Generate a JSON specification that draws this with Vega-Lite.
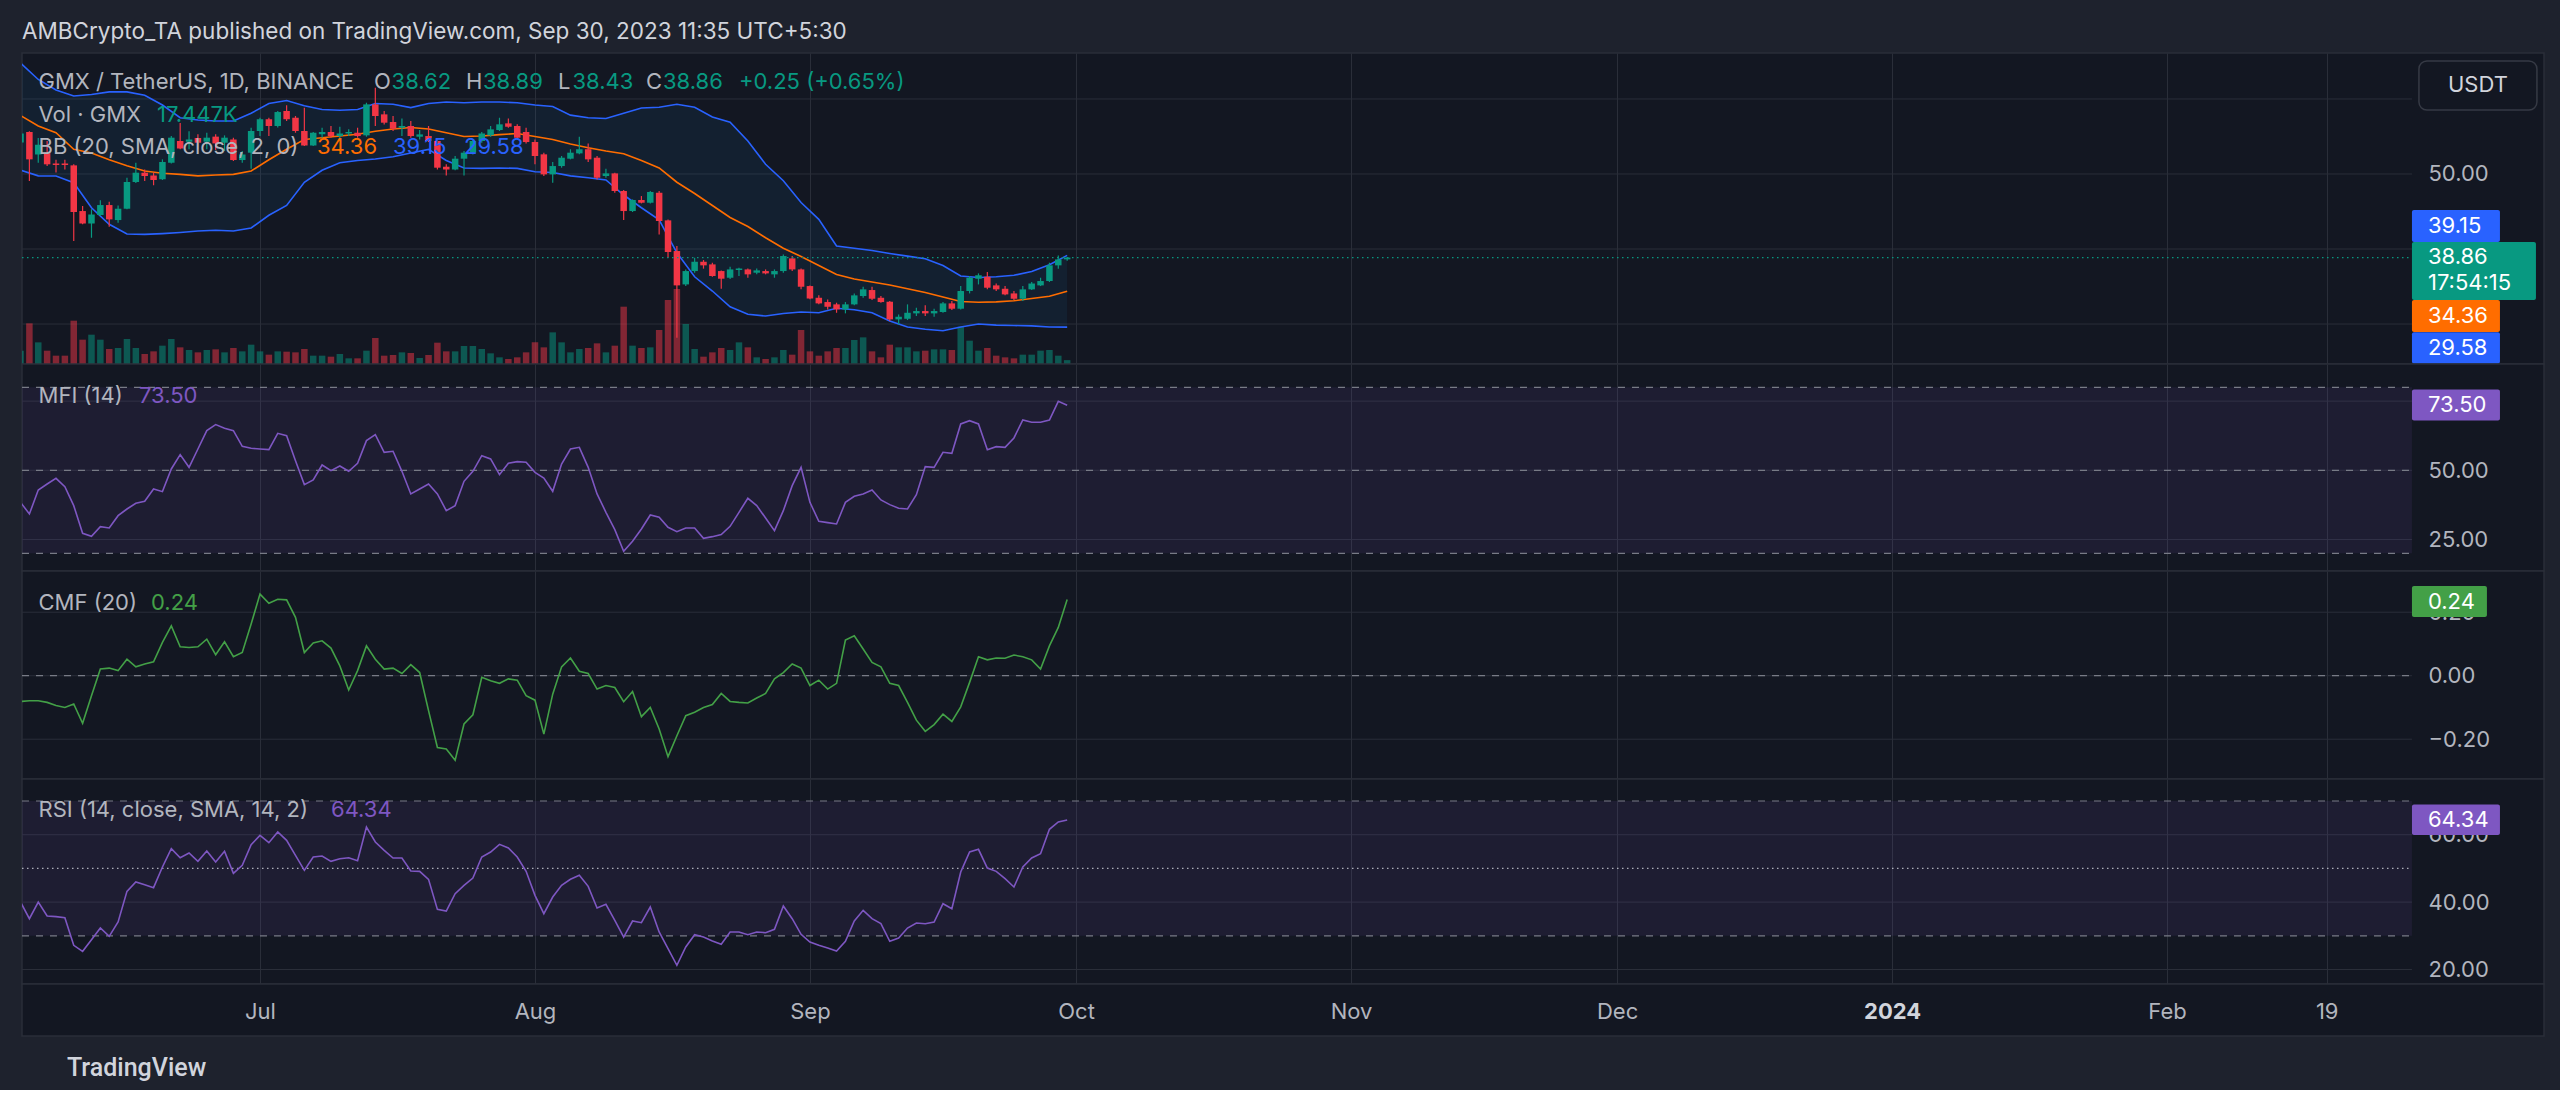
{
  "$schema": "https://vega.github.io/schema/vega-lite/v6.json",
  "background": "#1e222d",
  "padding": {"left": 19, "top": 20, "right": 19, "bottom": 8},
  "title": {"text": "AMBCrypto_TA published on TradingView.com, Sep 30, 2023 11:35 UTC+5:30", "anchor": "start", "frame": "group", "font": "Inter", "fontSize": 22.5, "fontWeight": "normal", "color": "#d1d4dc", "offset": 9},
  "spacing": 0,
  "bounds": "flush",
  "datasets": {
    "candles": [
      {"date": "2023-06-04", "open": 54.2, "high": 55.8, "low": 53.6, "close": 55.4, "volume": 60, "mfi": 38.43, "cmf": -0.081, "rsi": 40.03},
      {"date": "2023-06-05", "open": 55.6, "high": 55.7, "low": 49.06, "close": 51.95, "volume": 183, "mfi": 34.22, "cmf": -0.079, "rsi": 35.08},
      {"date": "2023-06-06", "open": 52.6, "high": 54.8, "low": 51.5, "close": 53.9, "volume": 97.5, "mfi": 42.89, "cmf": -0.079, "rsi": 40.03},
      {"date": "2023-06-07", "open": 52.84, "high": 54.4, "low": 51.06, "close": 51.29, "volume": 60, "mfi": 45.06, "cmf": -0.084, "rsi": 35.88},
      {"date": "2023-06-08", "open": 51.4, "high": 51.9, "low": 50.2, "close": 51.2, "volume": 37.5, "mfi": 47.11, "cmf": -0.094, "rsi": 35.68},
      {"date": "2023-06-09", "open": 51.4, "high": 51.9, "low": 50.6, "close": 51.2, "volume": 37.5, "mfi": 44.1, "cmf": -0.1, "rsi": 35.38},
      {"date": "2023-06-10", "open": 51.15, "high": 51.29, "low": 41.06, "close": 44.93, "volume": 195, "mfi": 37.23, "cmf": -0.089, "rsi": 27.17},
      {"date": "2023-06-11", "open": 45.06, "high": 45.73, "low": 43.3, "close": 43.4, "volume": 109.5, "mfi": 27.23, "cmf": -0.15, "rsi": 25.39},
      {"date": "2023-06-12", "open": 43.4, "high": 45.3, "low": 41.5, "close": 44.6, "volume": 132, "mfi": 26.14, "cmf": -0.063, "rsi": 28.85},
      {"date": "2023-06-13", "open": 44.53, "high": 46.5, "low": 44.4, "close": 45.86, "volume": 109.5, "mfi": 29.64, "cmf": 0.021, "rsi": 32.31},
      {"date": "2023-06-14", "open": 45.86, "high": 46.3, "low": 42.97, "close": 43.95, "volume": 67.5, "mfi": 29.16, "cmf": 0.024, "rsi": 29.84},
      {"date": "2023-06-15", "open": 43.86, "high": 45.8, "low": 43.5, "close": 45.37, "volume": 72, "mfi": 33.61, "cmf": 0.016, "rsi": 34.09},
      {"date": "2023-06-16", "open": 45.37, "high": 49.5, "low": 45.3, "close": 48.93, "volume": 112.5, "mfi": 36.02, "cmf": 0.052, "rsi": 43.19},
      {"date": "2023-06-17", "open": 48.93, "high": 51.5, "low": 48.8, "close": 50.17, "volume": 72, "mfi": 38.07, "cmf": 0.028, "rsi": 45.96},
      {"date": "2023-06-18", "open": 50.17, "high": 50.6, "low": 49.06, "close": 49.73, "volume": 45, "mfi": 38.8, "cmf": 0.037, "rsi": 45.17},
      {"date": "2023-06-19", "open": 49.8, "high": 50.2, "low": 48.5, "close": 49.2, "volume": 57, "mfi": 43.25, "cmf": 0.044, "rsi": 44.28},
      {"date": "2023-06-20", "open": 49.3, "high": 51.95, "low": 49.2, "close": 51.6, "volume": 82.5, "mfi": 42.29, "cmf": 0.105, "rsi": 50.41},
      {"date": "2023-06-21", "open": 51.5, "high": 55.06, "low": 51.4, "close": 54.84, "volume": 112.5, "mfi": 50.48, "cmf": 0.157, "rsi": 55.86},
      {"date": "2023-06-22", "open": 54.4, "high": 56.8, "low": 53.3, "close": 53.4, "volume": 75, "mfi": 55.66, "cmf": 0.091, "rsi": 53.18},
      {"date": "2023-06-23", "open": 54.3, "high": 55.7, "low": 53.3, "close": 54.6, "volume": 63, "mfi": 51.08, "cmf": 0.089, "rsi": 54.57},
      {"date": "2023-06-24", "open": 54.8, "high": 55.3, "low": 53.3, "close": 54.17, "volume": 52.5, "mfi": 57.71, "cmf": 0.091, "rsi": 52.1},
      {"date": "2023-06-25", "open": 54.3, "high": 55.5, "low": 53.3, "close": 54.84, "volume": 63, "mfi": 64.34, "cmf": 0.115, "rsi": 55.16},
      {"date": "2023-06-26", "open": 54.98, "high": 55.3, "low": 53.2, "close": 54.08, "volume": 66, "mfi": 66.51, "cmf": 0.066, "rsi": 51.9},
      {"date": "2023-06-27", "open": 54.17, "high": 55.15, "low": 53.07, "close": 54.84, "volume": 52.5, "mfi": 65.18, "cmf": 0.107, "rsi": 55.06},
      {"date": "2023-06-28", "open": 54.6, "high": 54.84, "low": 51.73, "close": 51.86, "volume": 72, "mfi": 64.34, "cmf": 0.06, "rsi": 48.54},
      {"date": "2023-06-29", "open": 51.86, "high": 53.07, "low": 51.5, "close": 52.6, "volume": 57, "mfi": 58.67, "cmf": 0.073, "rsi": 50.91},
      {"date": "2023-06-30", "open": 52.84, "high": 56.17, "low": 50.7, "close": 55.73, "volume": 87, "mfi": 57.95, "cmf": 0.163, "rsi": 57.04},
      {"date": "2023-07-01", "open": 55.73, "high": 57.5, "low": 55.06, "close": 57.3, "volume": 57, "mfi": 57.71, "cmf": 0.257, "rsi": 59.81},
      {"date": "2023-07-02", "open": 57.3, "high": 57.5, "low": 55.06, "close": 56.4, "volume": 42, "mfi": 57.47, "cmf": 0.228, "rsi": 57.64},
      {"date": "2023-07-03", "open": 56.4, "high": 58.4, "low": 56.2, "close": 58.26, "volume": 57, "mfi": 63.37, "cmf": 0.241, "rsi": 60.8},
      {"date": "2023-07-04", "open": 58.4, "high": 59.15, "low": 57.06, "close": 57.3, "volume": 55.5, "mfi": 62.53, "cmf": 0.239, "rsi": 58.33},
      {"date": "2023-07-05", "open": 57.5, "high": 57.73, "low": 55.5, "close": 55.73, "volume": 52.5, "mfi": 53.49, "cmf": 0.184, "rsi": 53.88},
      {"date": "2023-07-06", "open": 55.73, "high": 58.84, "low": 53.73, "close": 53.8, "volume": 67.5, "mfi": 44.82, "cmf": 0.073, "rsi": 49.43},
      {"date": "2023-07-07", "open": 53.8, "high": 55.6, "low": 53.73, "close": 55.5, "volume": 37.5, "mfi": 46.51, "cmf": 0.103, "rsi": 53.38},
      {"date": "2023-07-08", "open": 55.3, "high": 56.17, "low": 54.84, "close": 55.6, "volume": 37.5, "mfi": 51.93, "cmf": 0.11, "rsi": 53.68},
      {"date": "2023-07-09", "open": 55.6, "high": 56.4, "low": 54.84, "close": 55.06, "volume": 33, "mfi": 49.88, "cmf": 0.087, "rsi": 52.1},
      {"date": "2023-07-10", "open": 55.06, "high": 56.3, "low": 54.7, "close": 55.4, "volume": 45, "mfi": 51.57, "cmf": 0.031, "rsi": 52.89},
      {"date": "2023-07-11", "open": 55.4, "high": 55.95, "low": 55.06, "close": 55.6, "volume": 25.5, "mfi": 49.64, "cmf": -0.045, "rsi": 53.18},
      {"date": "2023-07-12", "open": 55.5, "high": 56.17, "low": 54.84, "close": 55.06, "volume": 25.5, "mfi": 52.53, "cmf": 0.016, "rsi": 52.29},
      {"date": "2023-07-13", "open": 55.15, "high": 59.5, "low": 54.97, "close": 59.28, "volume": 60, "mfi": 60.72, "cmf": 0.094, "rsi": 62.28},
      {"date": "2023-07-14", "open": 59.28, "high": 61.5, "low": 56.4, "close": 57.73, "volume": 117, "mfi": 62.89, "cmf": 0.052, "rsi": 57.83},
      {"date": "2023-07-15", "open": 57.95, "high": 58.4, "low": 56.6, "close": 56.84, "volume": 37.5, "mfi": 56.51, "cmf": 0.021, "rsi": 55.36},
      {"date": "2023-07-16", "open": 56.93, "high": 57.73, "low": 55.73, "close": 56.04, "volume": 40.5, "mfi": 56.87, "cmf": 0.024, "rsi": 53.09},
      {"date": "2023-07-17", "open": 56.17, "high": 57.4, "low": 55.06, "close": 56.4, "volume": 52.5, "mfi": 49.64, "cmf": 0.007, "rsi": 53.09},
      {"date": "2023-07-18", "open": 56.4, "high": 57.06, "low": 54.84, "close": 55.06, "volume": 49.5, "mfi": 41.45, "cmf": 0.035, "rsi": 49.23},
      {"date": "2023-07-19", "open": 54.97, "high": 55.86, "low": 54.6, "close": 55.28, "volume": 27, "mfi": 43.25, "cmf": 0.01, "rsi": 49.13},
      {"date": "2023-07-20", "open": 55.06, "high": 56.4, "low": 54.26, "close": 54.4, "volume": 40.5, "mfi": 45.06, "cmf": -0.11, "rsi": 46.76},
      {"date": "2023-07-21", "open": 54.4, "high": 54.6, "low": 50.6, "close": 50.84, "volume": 96, "mfi": 41.45, "cmf": -0.226, "rsi": 37.85},
      {"date": "2023-07-22", "open": 50.97, "high": 51.3, "low": 49.8, "close": 50.6, "volume": 57, "mfi": 35.42, "cmf": -0.231, "rsi": 37.36},
      {"date": "2023-07-23", "open": 50.6, "high": 52.4, "low": 50.5, "close": 52.04, "volume": 57, "mfi": 37.23, "cmf": -0.266, "rsi": 42.5},
      {"date": "2023-07-24", "open": 52.04, "high": 53.07, "low": 49.8, "close": 52.84, "volume": 81, "mfi": 46.02, "cmf": -0.152, "rsi": 44.97},
      {"date": "2023-07-25", "open": 52.84, "high": 54.6, "low": 52.6, "close": 54.4, "volume": 81, "mfi": 49.64, "cmf": -0.123, "rsi": 47.15},
      {"date": "2023-07-26", "open": 54.4, "high": 55.6, "low": 54.17, "close": 55.4, "volume": 67.5, "mfi": 55.3, "cmf": -0.005, "rsi": 53.38},
      {"date": "2023-07-27", "open": 55.15, "high": 56.4, "low": 54.97, "close": 55.95, "volume": 48, "mfi": 54.1, "cmf": -0.016, "rsi": 54.87},
      {"date": "2023-07-28", "open": 55.86, "high": 57.5, "low": 55.73, "close": 56.62, "volume": 30, "mfi": 48.43, "cmf": -0.024, "rsi": 57.14},
      {"date": "2023-07-29", "open": 56.75, "high": 57.4, "low": 56.17, "close": 56.3, "volume": 22.5, "mfi": 52.53, "cmf": -0.01, "rsi": 56.05},
      {"date": "2023-07-30", "open": 56.4, "high": 56.62, "low": 54.6, "close": 54.84, "volume": 30, "mfi": 53.13, "cmf": -0.014, "rsi": 53.38},
      {"date": "2023-07-31", "open": 55.6, "high": 56.17, "low": 54.08, "close": 54.26, "volume": 52.5, "mfi": 52.89, "cmf": -0.063, "rsi": 49.13},
      {"date": "2023-08-01", "open": 54.26, "high": 54.6, "low": 51.3, "close": 52.4, "volume": 97.5, "mfi": 49.28, "cmf": -0.077, "rsi": 42.01},
      {"date": "2023-08-02", "open": 52.62, "high": 52.84, "low": 49.73, "close": 49.95, "volume": 75, "mfi": 47.23, "cmf": -0.184, "rsi": 36.57},
      {"date": "2023-08-03", "open": 49.95, "high": 51.6, "low": 48.84, "close": 51.06, "volume": 142.5, "mfi": 42.41, "cmf": -0.058, "rsi": 41.51},
      {"date": "2023-08-04", "open": 51.06, "high": 52.4, "low": 50.84, "close": 52.17, "volume": 97.5, "mfi": 52.29, "cmf": 0.028, "rsi": 44.97},
      {"date": "2023-08-05", "open": 52.04, "high": 53.3, "low": 51.95, "close": 52.84, "volume": 52.5, "mfi": 57.71, "cmf": 0.056, "rsi": 46.76},
      {"date": "2023-08-06", "open": 52.75, "high": 54.97, "low": 52.62, "close": 53.3, "volume": 67.5, "mfi": 58.31, "cmf": 0.014, "rsi": 47.94},
      {"date": "2023-08-07", "open": 53.3, "high": 54.08, "low": 51.6, "close": 51.95, "volume": 72, "mfi": 51.08, "cmf": 0.007, "rsi": 44.68},
      {"date": "2023-08-08", "open": 52.17, "high": 52.4, "low": 49.28, "close": 49.5, "volume": 93, "mfi": 41.45, "cmf": -0.042, "rsi": 38.25},
      {"date": "2023-08-09", "open": 49.73, "high": 50.7, "low": 49.5, "close": 50.08, "volume": 52.5, "mfi": 34.82, "cmf": -0.031, "rsi": 39.34},
      {"date": "2023-08-10", "open": 50.08, "high": 50.17, "low": 47.5, "close": 47.73, "volume": 82.5, "mfi": 28.55, "cmf": -0.037, "rsi": 34.59},
      {"date": "2023-08-11", "open": 47.73, "high": 47.86, "low": 43.86, "close": 45.06, "volume": 258, "mfi": 20.72, "cmf": -0.082, "rsi": 29.64},
      {"date": "2023-08-12", "open": 45.06, "high": 46.62, "low": 44.93, "close": 46.53, "volume": 82.5, "mfi": 24.34, "cmf": -0.05, "rsi": 34.39},
      {"date": "2023-08-13", "open": 46.53, "high": 47.06, "low": 46.08, "close": 46.17, "volume": 72, "mfi": 28.8, "cmf": -0.129, "rsi": 33.9},
      {"date": "2023-08-14", "open": 46.17, "high": 47.73, "low": 46.08, "close": 47.6, "volume": 75, "mfi": 33.86, "cmf": -0.1, "rsi": 38.55},
      {"date": "2023-08-15", "open": 47.5, "high": 47.73, "low": 41.95, "close": 43.73, "volume": 153, "mfi": 33.01, "cmf": -0.168, "rsi": 31.13},
      {"date": "2023-08-16", "open": 43.82, "high": 43.95, "low": 38.84, "close": 39.6, "volume": 288, "mfi": 29.4, "cmf": -0.255, "rsi": 26.18},
      {"date": "2023-08-17", "open": 39.73, "high": 40.4, "low": 28.17, "close": 35.15, "volume": 337.5, "mfi": 27.83, "cmf": -0.189, "rsi": 21.24},
      {"date": "2023-08-18", "open": 35.28, "high": 37.28, "low": 35.06, "close": 37.06, "volume": 180, "mfi": 29.16, "cmf": -0.126, "rsi": 26.68},
      {"date": "2023-08-19", "open": 37.06, "high": 38.84, "low": 36.84, "close": 38.3, "volume": 67.5, "mfi": 29.16, "cmf": -0.115, "rsi": 30.34},
      {"date": "2023-08-20", "open": 38.3, "high": 38.53, "low": 37.38, "close": 37.82, "volume": 33, "mfi": 25.42, "cmf": -0.1, "rsi": 29.64},
      {"date": "2023-08-21", "open": 37.95, "high": 38.17, "low": 36.3, "close": 36.4, "volume": 52.5, "mfi": 26.02, "cmf": -0.091, "rsi": 28.46},
      {"date": "2023-08-22", "open": 37.06, "high": 37.15, "low": 34.7, "close": 36.04, "volume": 72, "mfi": 26.75, "cmf": -0.056, "rsi": 27.47},
      {"date": "2023-08-23", "open": 36.17, "high": 37.64, "low": 36.0, "close": 37.28, "volume": 63, "mfi": 29.76, "cmf": -0.081, "rsi": 31.13},
      {"date": "2023-08-24", "open": 37.2, "high": 37.5, "low": 36.4, "close": 37.4, "volume": 97.5, "mfi": 34.82, "cmf": -0.084, "rsi": 31.13},
      {"date": "2023-08-25", "open": 37.28, "high": 37.4, "low": 36.17, "close": 36.62, "volume": 75, "mfi": 39.88, "cmf": -0.086, "rsi": 30.34},
      {"date": "2023-08-26", "open": 36.84, "high": 37.4, "low": 36.62, "close": 37.15, "volume": 30, "mfi": 37.23, "cmf": -0.07, "rsi": 31.13},
      {"date": "2023-08-27", "open": 37.06, "high": 37.28, "low": 36.62, "close": 36.75, "volume": 22.5, "mfi": 32.77, "cmf": -0.056, "rsi": 30.93},
      {"date": "2023-08-28", "open": 36.62, "high": 37.28, "low": 36.17, "close": 37.06, "volume": 30, "mfi": 28.19, "cmf": -0.01, "rsi": 31.92},
      {"date": "2023-08-29", "open": 37.06, "high": 39.28, "low": 36.84, "close": 39.06, "volume": 63, "mfi": 35.42, "cmf": 0.01, "rsi": 38.84},
      {"date": "2023-08-30", "open": 38.75, "high": 39.06, "low": 37.06, "close": 37.28, "volume": 42, "mfi": 44.46, "cmf": 0.037, "rsi": 35.08},
      {"date": "2023-08-31", "open": 37.28, "high": 37.4, "low": 34.62, "close": 34.97, "volume": 153, "mfi": 51.08, "cmf": 0.024, "rsi": 30.44},
      {"date": "2023-09-01", "open": 35.06, "high": 35.15, "low": 33.3, "close": 33.4, "volume": 57, "mfi": 38.43, "cmf": -0.031, "rsi": 28.16},
      {"date": "2023-09-02", "open": 33.5, "high": 33.82, "low": 32.62, "close": 32.75, "volume": 37.5, "mfi": 31.57, "cmf": -0.014, "rsi": 27.17},
      {"date": "2023-09-03", "open": 32.93, "high": 33.28, "low": 31.95, "close": 32.3, "volume": 57, "mfi": 31.08, "cmf": -0.042, "rsi": 26.38},
      {"date": "2023-09-04", "open": 32.62, "high": 32.84, "low": 31.5, "close": 31.95, "volume": 72, "mfi": 30.6, "cmf": -0.024, "rsi": 25.49},
      {"date": "2023-09-05", "open": 31.95, "high": 32.93, "low": 31.42, "close": 32.62, "volume": 72, "mfi": 38.43, "cmf": 0.112, "rsi": 28.36},
      {"date": "2023-09-06", "open": 32.62, "high": 34.08, "low": 32.5, "close": 33.82, "volume": 108, "mfi": 40.6, "cmf": 0.126, "rsi": 34.39},
      {"date": "2023-09-07", "open": 33.73, "high": 34.97, "low": 33.5, "close": 34.62, "volume": 120, "mfi": 41.45, "cmf": 0.084, "rsi": 37.56},
      {"date": "2023-09-08", "open": 34.53, "high": 34.97, "low": 33.2, "close": 33.37, "volume": 57, "mfi": 42.89, "cmf": 0.042, "rsi": 35.08},
      {"date": "2023-09-09", "open": 33.5, "high": 33.73, "low": 32.84, "close": 32.93, "volume": 30, "mfi": 39.28, "cmf": 0.028, "rsi": 33.6},
      {"date": "2023-09-10", "open": 32.97, "high": 33.06, "low": 30.4, "close": 30.62, "volume": 87, "mfi": 37.59, "cmf": -0.024, "rsi": 28.36},
      {"date": "2023-09-11", "open": 30.62, "high": 31.28, "low": 29.95, "close": 30.97, "volume": 75, "mfi": 36.27, "cmf": -0.031, "rsi": 29.35},
      {"date": "2023-09-12", "open": 30.7, "high": 32.62, "low": 30.53, "close": 31.5, "volume": 75, "mfi": 36.02, "cmf": -0.084, "rsi": 32.31},
      {"date": "2023-09-13", "open": 31.42, "high": 32.17, "low": 31.06, "close": 31.73, "volume": 57, "mfi": 41.2, "cmf": -0.14, "rsi": 33.8},
      {"date": "2023-09-14", "open": 31.73, "high": 32.5, "low": 31.06, "close": 31.42, "volume": 60, "mfi": 51.33, "cmf": -0.175, "rsi": 33.6},
      {"date": "2023-09-15", "open": 31.42, "high": 32.04, "low": 30.97, "close": 31.73, "volume": 66, "mfi": 51.08, "cmf": -0.154, "rsi": 34.09},
      {"date": "2023-09-16", "open": 31.6, "high": 32.93, "low": 31.5, "close": 32.75, "volume": 66, "mfi": 56.51, "cmf": -0.121, "rsi": 39.53},
      {"date": "2023-09-17", "open": 32.75, "high": 33.06, "low": 31.86, "close": 32.04, "volume": 63, "mfi": 56.14, "cmf": -0.144, "rsi": 38.05},
      {"date": "2023-09-18", "open": 32.04, "high": 35.06, "low": 31.95, "close": 34.4, "volume": 168, "mfi": 66.75, "cmf": -0.098, "rsi": 48.93},
      {"date": "2023-09-19", "open": 34.4, "high": 36.4, "low": 34.08, "close": 36.17, "volume": 105, "mfi": 67.95, "cmf": -0.021, "rsi": 54.87},
      {"date": "2023-09-20", "open": 36.04, "high": 36.75, "low": 35.28, "close": 36.5, "volume": 60, "mfi": 66.75, "cmf": 0.06, "rsi": 55.66},
      {"date": "2023-09-21", "open": 36.3, "high": 36.93, "low": 34.62, "close": 34.84, "volume": 72, "mfi": 57.47, "cmf": 0.05, "rsi": 50.12},
      {"date": "2023-09-22", "open": 35.15, "high": 35.4, "low": 34.4, "close": 34.62, "volume": 37.5, "mfi": 58.55, "cmf": 0.056, "rsi": 49.13},
      {"date": "2023-09-23", "open": 34.7, "high": 35.06, "low": 33.82, "close": 33.95, "volume": 30, "mfi": 58.31, "cmf": 0.055, "rsi": 46.95},
      {"date": "2023-09-24", "open": 34.08, "high": 34.4, "low": 33.2, "close": 33.37, "volume": 25.5, "mfi": 61.69, "cmf": 0.065, "rsi": 44.48},
      {"date": "2023-09-25", "open": 33.37, "high": 35.06, "low": 33.06, "close": 34.62, "volume": 42, "mfi": 68.19, "cmf": 0.06, "rsi": 50.41},
      {"date": "2023-09-26", "open": 34.62, "high": 35.6, "low": 34.53, "close": 35.4, "volume": 42, "mfi": 67.35, "cmf": 0.05, "rsi": 53.09},
      {"date": "2023-09-27", "open": 35.15, "high": 36.17, "low": 35.06, "close": 35.73, "volume": 60, "mfi": 67.35, "cmf": 0.021, "rsi": 54.37},
      {"date": "2023-09-28", "open": 35.73, "high": 38.17, "low": 35.6, "close": 37.82, "volume": 63, "mfi": 68.19, "cmf": 0.094, "rsi": 61.59},
      {"date": "2023-09-29", "open": 37.82, "high": 39.15, "low": 37.38, "close": 38.61, "volume": 37.5, "mfi": 74.94, "cmf": 0.152, "rsi": 63.77},
      {"date": "2023-09-30", "open": 38.62, "high": 38.89, "low": 38.43, "close": 38.86, "volume": 17.447, "mfi": 73.5, "cmf": 0.24, "rsi": 64.34}
    ],
    "bb": [
      {"date": "2023-06-04", "upper": 64.8, "basis": 57.8, "lower": 50.5},
      {"date": "2023-06-06", "upper": 62.6, "basis": 56.4, "lower": 49.75},
      {"date": "2023-06-08", "upper": 61.2, "basis": 55.5, "lower": 49.73},
      {"date": "2023-06-10", "upper": 60.4, "basis": 53.3, "lower": 48.84},
      {"date": "2023-06-12", "upper": 60.6, "basis": 52.8, "lower": 45.5},
      {"date": "2023-06-14", "upper": 60.95, "basis": 51.9, "lower": 43.3},
      {"date": "2023-06-16", "upper": 60.95, "basis": 51.1, "lower": 42.0},
      {"date": "2023-06-18", "upper": 60.5, "basis": 50.4, "lower": 41.95},
      {"date": "2023-06-20", "upper": 59.2, "basis": 50.1, "lower": 42.05},
      {"date": "2023-06-22", "upper": 57.5, "basis": 49.95, "lower": 42.2},
      {"date": "2023-06-24", "upper": 57.2, "basis": 49.75, "lower": 42.4},
      {"date": "2023-06-26", "upper": 57.06, "basis": 49.86, "lower": 42.5},
      {"date": "2023-06-28", "upper": 57.06, "basis": 49.95, "lower": 42.4},
      {"date": "2023-06-30", "upper": 58.1, "basis": 50.4, "lower": 42.8},
      {"date": "2023-07-02", "upper": 59.4, "basis": 51.9, "lower": 44.5},
      {"date": "2023-07-04", "upper": 59.8, "basis": 53.3, "lower": 45.8},
      {"date": "2023-07-06", "upper": 59.1, "basis": 54.6, "lower": 48.9},
      {"date": "2023-07-08", "upper": 58.6, "basis": 54.84, "lower": 50.5},
      {"date": "2023-07-10", "upper": 58.5, "basis": 55.06, "lower": 51.5},
      {"date": "2023-07-12", "upper": 58.6, "basis": 55.3, "lower": 51.8},
      {"date": "2023-07-14", "upper": 59.4, "basis": 55.7, "lower": 52.0},
      {"date": "2023-07-16", "upper": 59.3, "basis": 56.0, "lower": 52.3},
      {"date": "2023-07-18", "upper": 58.85, "basis": 56.2, "lower": 52.8},
      {"date": "2023-07-20", "upper": 59.4, "basis": 56.0, "lower": 53.28},
      {"date": "2023-07-22", "upper": 59.6, "basis": 55.5, "lower": 51.8},
      {"date": "2023-07-24", "upper": 59.5, "basis": 55.0, "lower": 50.8},
      {"date": "2023-07-26", "upper": 59.6, "basis": 55.06, "lower": 50.75},
      {"date": "2023-07-28", "upper": 59.6, "basis": 55.25, "lower": 50.8},
      {"date": "2023-07-30", "upper": 59.5, "basis": 55.4, "lower": 50.75},
      {"date": "2023-08-01", "upper": 59.2, "basis": 55.0, "lower": 50.3},
      {"date": "2023-08-03", "upper": 59.0, "basis": 54.6, "lower": 50.2},
      {"date": "2023-08-05", "upper": 57.85, "basis": 54.0, "lower": 49.75},
      {"date": "2023-08-07", "upper": 57.5, "basis": 53.5, "lower": 49.5},
      {"date": "2023-08-09", "upper": 57.4, "basis": 53.06, "lower": 49.2},
      {"date": "2023-08-11", "upper": 58.1, "basis": 52.7, "lower": 47.2},
      {"date": "2023-08-13", "upper": 58.8, "basis": 51.8, "lower": 45.5},
      {"date": "2023-08-15", "upper": 58.9, "basis": 50.8, "lower": 43.9},
      {"date": "2023-08-17", "upper": 59.3, "basis": 48.9, "lower": 39.5},
      {"date": "2023-08-19", "upper": 58.9, "basis": 47.4, "lower": 36.3},
      {"date": "2023-08-21", "upper": 57.6, "basis": 45.8, "lower": 34.4},
      {"date": "2023-08-23", "upper": 56.9, "basis": 44.2, "lower": 32.3},
      {"date": "2023-08-25", "upper": 54.4, "basis": 43.0, "lower": 31.3},
      {"date": "2023-08-27", "upper": 51.3, "basis": 41.5, "lower": 31.06},
      {"date": "2023-08-29", "upper": 49.1, "basis": 40.1, "lower": 31.4},
      {"date": "2023-08-31", "upper": 46.2, "basis": 39.0, "lower": 31.6},
      {"date": "2023-09-02", "upper": 43.95, "basis": 37.8, "lower": 31.5},
      {"date": "2023-09-04", "upper": 40.4, "basis": 36.6, "lower": 32.1},
      {"date": "2023-09-06", "upper": 40.1, "basis": 36.0, "lower": 31.9},
      {"date": "2023-09-08", "upper": 39.8, "basis": 35.6, "lower": 31.5},
      {"date": "2023-09-10", "upper": 39.4, "basis": 35.2, "lower": 30.4},
      {"date": "2023-09-12", "upper": 39.05, "basis": 34.7, "lower": 29.6},
      {"date": "2023-09-14", "upper": 38.7, "basis": 34.2, "lower": 29.3},
      {"date": "2023-09-16", "upper": 37.8, "basis": 33.6, "lower": 29.1},
      {"date": "2023-09-18", "upper": 36.4, "basis": 33.0, "lower": 29.6},
      {"date": "2023-09-20", "upper": 36.2, "basis": 32.9, "lower": 30.0},
      {"date": "2023-09-22", "upper": 36.3, "basis": 32.95, "lower": 29.85},
      {"date": "2023-09-24", "upper": 36.5, "basis": 33.1, "lower": 29.8},
      {"date": "2023-09-26", "upper": 37.0, "basis": 33.4, "lower": 29.75},
      {"date": "2023-09-28", "upper": 37.9, "basis": 33.7, "lower": 29.6},
      {"date": "2023-09-30", "upper": 39.15, "basis": 34.36, "lower": 29.58}
    ]
  },
  "vconcat": [
    {
      "width": 2522,
      "height": 311,
      "resolve": {"scale": {"y": "independent"}},
      "layer": [
        {
          "data": {"values": [{"level": 30}, {"level": 40}, {"level": 50}, {"level": 60}]},
          "mark": {"type": "rule", "color": "#2a2e39", "strokeWidth": 1},
          "encoding": {
            "x": {"datum": 1685851200000, "type": "temporal"}, "x2": {"datum": 1709131320000},
            "y": {"field": "level", "type": "quantitative", "scale": {"domain": [24.67, 66.13], "nice": false, "zero": false}, "axis": null}
          }
        },
        {
          "data": {"name": "candles"},
          "mark": {"type": "bar", "size": 6.5, "opacity": 0.5, "clip": true},
          "encoding": {
            "x": {"field": "date", "type": "temporal", "scale": {"type": "utc", "domain": [1685851200000, 1710417600000], "padding": 0},
              "axis": {"values": [1688169600000, 1690848000000, 1693526400000, 1696118400000, 1698796800000, 1701388800000, 1704067200000, 1706745600000, 1708300800000], "grid": true, "labels": false, "title": null}},
            "y": {"field": "volume", "type": "quantitative", "scale": {"domain": [0, 1400], "nice": false}, "axis": null},
            "color": {"condition": {"test": "datum.close >= datum.open", "value": "#089981"}, "value": "#f23645"}
          }
        },
        {
          "layer": [
            {
              "data": {"name": "bb"},
              "mark": {"type": "area", "color": "#2196f3", "opacity": 0.07, "clip": true},
              "encoding": {
                "x": {"field": "date", "type": "temporal"},
                "y": {"field": "upper", "type": "quantitative", "scale": {"domain": [24.67, 66.13], "nice": false, "zero": false},
                  "axis": {"orient": "right", "offset": -132, "values": [50], "format": ".2f", "grid": false, "labelAlign": "left", "labelPadding": 16, "labelBaseline": "middle", "title": null}},
                "y2": {"field": "lower"}
              }
            },
            {"data": {"name": "bb"}, "mark": {"type": "line", "color": "#2962ff", "strokeWidth": 1.6, "clip": true},
              "encoding": {"x": {"field": "date", "type": "temporal"}, "y": {"field": "upper", "type": "quantitative"}}},
            {"data": {"name": "bb"}, "mark": {"type": "line", "color": "#2962ff", "strokeWidth": 1.6, "clip": true},
              "encoding": {"x": {"field": "date", "type": "temporal"}, "y": {"field": "lower", "type": "quantitative"}}},
            {"data": {"name": "bb"}, "mark": {"type": "line", "color": "#ff6d00", "strokeWidth": 1.6, "clip": true},
              "encoding": {"x": {"field": "date", "type": "temporal"}, "y": {"field": "basis", "type": "quantitative"}}},
            {
              "data": {"name": "candles"},
              "mark": {"type": "rule", "strokeWidth": 1.2, "clip": true},
              "encoding": {
                "x": {"field": "date", "type": "temporal"},
                "y": {"field": "low", "type": "quantitative"},
                "y2": {"field": "high"},
                "color": {"condition": {"test": "datum.close >= datum.open", "value": "#089981"}, "value": "#f23645"}
              }
            },
            {
              "data": {"name": "candles"},
              "mark": {"type": "bar", "size": 6.5, "clip": true},
              "encoding": {
                "x": {"field": "date", "type": "temporal"},
                "y": {"field": "open", "type": "quantitative"},
                "y2": {"field": "close"},
                "color": {"condition": {"test": "datum.close >= datum.open", "value": "#089981"}, "value": "#f23645"}
              }
            },
            {"data": {"values": [{}]}, "mark": {"type": "rule", "color": "#089981", "strokeDash": [1.5, 3.5], "strokeWidth": 1.2},
              "encoding": {"x": {"datum": 1685851200000, "type": "temporal"}, "x2": {"datum": 1709131320000}, "y": {"datum": 38.86}}},
            {"data": {"values": [{}]}, "mark": {"type": "text", "text": "GMX / TetherUS, 1D, BINANCE", "color": "#b2b5be"},
              "encoding": {"x": {"datum": 1686012120000, "type": "temporal"}, "y": {"datum": 62.27}}},
            {"data": {"values": [{}]}, "mark": {"type": "text", "text": "O", "color": "#b2b5be"},
              "encoding": {"x": {"datum": 1689280200000, "type": "temporal"}, "y": {"datum": 62.27}}},
            {"data": {"values": [{}]}, "mark": {"type": "text", "text": "38.62", "color": "#089981"},
              "encoding": {"x": {"datum": 1689451200000, "type": "temporal"}, "y": {"datum": 62.27}}},
            {"data": {"values": [{}]}, "mark": {"type": "text", "text": "H", "color": "#b2b5be"},
              "encoding": {"x": {"datum": 1690176240000, "type": "temporal"}, "y": {"datum": 62.27}}},
            {"data": {"values": [{}]}, "mark": {"type": "text", "text": "38.89", "color": "#089981"},
              "encoding": {"x": {"datum": 1690341840000, "type": "temporal"}, "y": {"datum": 62.27}}},
            {"data": {"values": [{}]}, "mark": {"type": "text", "text": "L", "color": "#b2b5be"},
              "encoding": {"x": {"datum": 1691072280000, "type": "temporal"}, "y": {"datum": 62.27}}},
            {"data": {"values": [{}]}, "mark": {"type": "text", "text": "38.43", "color": "#089981"},
              "encoding": {"x": {"datum": 1691213400000, "type": "temporal"}, "y": {"datum": 62.27}}},
            {"data": {"values": [{}]}, "mark": {"type": "text", "text": "C", "color": "#b2b5be"},
              "encoding": {"x": {"datum": 1691929440000, "type": "temporal"}, "y": {"datum": 62.27}}},
            {"data": {"values": [{}]}, "mark": {"type": "text", "text": "38.86", "color": "#089981"},
              "encoding": {"x": {"datum": 1692095040000, "type": "temporal"}, "y": {"datum": 62.27}}},
            {"data": {"values": [{}]}, "mark": {"type": "text", "text": "+0.25 (+0.65%)", "color": "#089981"},
              "encoding": {"x": {"datum": 1692835200000, "type": "temporal"}, "y": {"datum": 62.27}}},
            {"data": {"values": [{}]}, "mark": {"type": "text", "text": "Vol · GMX", "color": "#b2b5be"},
              "encoding": {"x": {"datum": 1686012120000, "type": "temporal"}, "y": {"datum": 57.87}}},
            {"data": {"values": [{}]}, "mark": {"type": "text", "text": "17.447K", "color": "#089981"},
              "encoding": {"x": {"datum": 1687166280000, "type": "temporal"}, "y": {"datum": 57.87}}},
            {"data": {"values": [{}]}, "mark": {"type": "text", "text": "BB (20, SMA, close, 2, 0)", "color": "#b2b5be"},
              "encoding": {"x": {"datum": 1686012120000, "type": "temporal"}, "y": {"datum": 53.6}}},
            {"data": {"values": [{}]}, "mark": {"type": "text", "text": "34.36", "color": "#ff6d00"},
              "encoding": {"x": {"datum": 1688724720000, "type": "temporal"}, "y": {"datum": 53.6}}},
            {"data": {"values": [{}]}, "mark": {"type": "text", "text": "39.15", "color": "#2962ff"},
              "encoding": {"x": {"datum": 1689465240000, "type": "temporal"}, "y": {"datum": 53.6}}},
            {"data": {"values": [{}]}, "mark": {"type": "text", "text": "29.58", "color": "#2962ff"},
              "encoding": {"x": {"datum": 1690156800000, "type": "temporal"}, "y": {"datum": 53.6}}},
            {"data": {"values": [{}]}, "mark": {"type": "rect", "fill": "#131722", "stroke": "#363a45", "strokeWidth": 1.5, "cornerRadius": 8},
              "encoding": {"x": {"datum": 1709199360000, "type": "temporal"}, "x2": {"datum": 1710348840000}, "y": {"datum": 65.07}, "y2": {"datum": 58.53}}},
            {"data": {"values": [{}]}, "mark": {"type": "text", "text": "USDT", "color": "#d1d4dc", "align": "center"},
              "encoding": {"x": {"datum": 1709773920000, "type": "temporal"}, "y": {"datum": 61.8}}},
            {"data": {"values": [{}]}, "mark": {"type": "rect", "color": "#2962ff", "cornerRadius": 2},
              "encoding": {"x": {"datum": 1709131320000, "type": "temporal"}, "x2": {"datum": 1709988480000}, "y": {"datum": 45.2}, "y2": {"datum": 40.93}}},
            {"data": {"values": [{}]}, "mark": {"type": "rect", "color": "#089981", "cornerRadius": 2},
              "encoding": {"x": {"datum": 1709131320000, "type": "temporal"}, "x2": {"datum": 1710339120000}, "y": {"datum": 40.93}, "y2": {"datum": 33.2}}},
            {"data": {"values": [{}]}, "mark": {"type": "rect", "color": "#ff6d00", "cornerRadius": 2},
              "encoding": {"x": {"datum": 1709131320000, "type": "temporal"}, "x2": {"datum": 1709988480000}, "y": {"datum": 33.2}, "y2": {"datum": 28.93}}},
            {"data": {"values": [{}]}, "mark": {"type": "rect", "color": "#2962ff", "cornerRadius": 2},
              "encoding": {"x": {"datum": 1709131320000, "type": "temporal"}, "x2": {"datum": 1709988480000}, "y": {"datum": 28.9}, "y2": {"datum": 24.75}}},
            {"data": {"values": [{}]}, "mark": {"type": "text", "text": "39.15", "color": "#ffffff"},
              "encoding": {"x": {"datum": 1709287200000, "type": "temporal"}, "y": {"datum": 43.07}}},
            {"data": {"values": [{}]}, "mark": {"type": "text", "text": "38.86", "color": "#ffffff"},
              "encoding": {"x": {"datum": 1709287200000, "type": "temporal"}, "y": {"datum": 38.93}}},
            {"data": {"values": [{}]}, "mark": {"type": "text", "text": "17:54:15", "color": "#ffffff"},
              "encoding": {"x": {"datum": 1709287200000, "type": "temporal"}, "y": {"datum": 35.47}}},
            {"data": {"values": [{}]}, "mark": {"type": "text", "text": "34.36", "color": "#ffffff"},
              "encoding": {"x": {"datum": 1709287200000, "type": "temporal"}, "y": {"datum": 31.07}}},
            {"data": {"values": [{}]}, "mark": {"type": "text", "text": "29.58", "color": "#ffffff"},
              "encoding": {"x": {"datum": 1709287200000, "type": "temporal"}, "y": {"datum": 26.8}}}
          ]
        }
      ]
    },
    {
      "width": 2522,
      "height": 207,
      "layer": [
        {"data": {"values": [{"level": 25}, {"level": 50}, {"level": 75}]}, "mark": {"type": "rule", "color": "#2a2e39", "strokeWidth": 1},
          "encoding": {"x": {"datum": 1685851200000, "type": "temporal"}, "x2": {"datum": 1709131320000}, "y": {"field": "level", "type": "quantitative", "scale": {"domain": [13.61, 88.42], "nice": false, "zero": false}}}},
        {"data": {"values": [{}]}, "mark": {"type": "rect", "color": "#7e57c2", "opacity": 0.1},
          "encoding": {"x": {"datum": 1685851200000, "type": "temporal"}, "x2": {"datum": 1709131320000}, "y": {"datum": 80}, "y2": {"datum": 20}}},
        {"data": {"values": [{"level": 20}, {"level": 50}, {"level": 80}]}, "mark": {"type": "rule", "color": "#787b86", "strokeDash": [7, 7], "strokeWidth": 1.2},
          "encoding": {"x": {"datum": 1685851200000, "type": "temporal"}, "x2": {"datum": 1709131320000}, "y": {"field": "level", "type": "quantitative"}}},
        {"data": {"name": "candles"}, "mark": {"type": "line", "color": "#7e57c2", "strokeWidth": 1.6, "clip": true},
          "encoding": {
            "x": {"field": "date", "type": "temporal", "scale": {"type": "utc", "domain": [1685851200000, 1710417600000], "padding": 0},
              "axis": {"values": [1688169600000, 1690848000000, 1693526400000, 1696118400000, 1698796800000, 1701388800000, 1704067200000, 1706745600000, 1708300800000], "grid": true, "labels": false, "title": null}},
            "y": {"field": "mfi", "type": "quantitative", "axis": {"orient": "right", "offset": -132, "values": [25, 50], "format": ".2f", "grid": false, "labelAlign": "left", "labelPadding": 16, "labelBaseline": "middle", "title": null}}}},
        {"data": {"values": [{}]}, "mark": {"type": "text", "text": "MFI (14)", "color": "#b2b5be"},
          "encoding": {"x": {"datum": 1686012120000, "type": "temporal"}, "y": {"datum": 76.86}}},
        {"data": {"values": [{}]}, "mark": {"type": "text", "text": "73.50", "color": "#7e57c2"},
          "encoding": {"x": {"datum": 1686990960000, "type": "temporal"}, "y": {"datum": 76.86}}},
        {"data": {"values": [{}]}, "mark": {"type": "rect", "color": "#7e57c2", "cornerRadius": 2},
          "encoding": {"x": {"datum": 1709131320000, "type": "temporal"}, "x2": {"datum": 1709988480000}, "y": {"datum": 79.2}, "y2": {"datum": 67.97}}},
        {"data": {"values": [{}]}, "mark": {"type": "text", "text": "73.50", "color": "#ffffff"},
          "encoding": {"x": {"datum": 1709287200000, "type": "temporal"}, "y": {"datum": 73.6}}}
      ]
    },
    {
      "width": 2522,
      "height": 208,
      "layer": [
        {"data": {"values": [{"level": -0.2}, {"level": 0}, {"level": 0.2}]}, "mark": {"type": "rule", "color": "#2a2e39", "strokeWidth": 1},
          "encoding": {"x": {"datum": 1685851200000, "type": "temporal"}, "x2": {"datum": 1709131320000}, "y": {"field": "level", "type": "quantitative", "scale": {"domain": [-0.3253, 0.3298], "nice": false, "zero": false}}}},
        {"data": {"values": [{"level": 0}]}, "mark": {"type": "rule", "color": "#787b86", "strokeDash": [7, 7], "strokeWidth": 1.2},
          "encoding": {"x": {"datum": 1685851200000, "type": "temporal"}, "x2": {"datum": 1709131320000}, "y": {"field": "level", "type": "quantitative"}}},
        {"data": {"name": "candles"}, "mark": {"type": "line", "color": "#43a047", "strokeWidth": 1.6, "clip": true},
          "encoding": {
            "x": {"field": "date", "type": "temporal", "scale": {"type": "utc", "domain": [1685851200000, 1710417600000], "padding": 0},
              "axis": {"values": [1688169600000, 1690848000000, 1693526400000, 1696118400000, 1698796800000, 1701388800000, 1704067200000, 1706745600000, 1708300800000], "grid": true, "labels": false, "title": null}},
            "y": {"field": "cmf", "type": "quantitative", "axis": {"orient": "right", "offset": -132, "values": [-0.2, 0, 0.2], "format": ".2f", "grid": false, "labelAlign": "left", "labelPadding": 16, "labelBaseline": "middle", "title": null}}}},
        {"data": {"values": [{}]}, "mark": {"type": "text", "text": "CMF (20)", "color": "#b2b5be"},
          "encoding": {"x": {"datum": 1686012120000, "type": "temporal"}, "y": {"datum": 0.229}}},
        {"data": {"values": [{}]}, "mark": {"type": "text", "text": "0.24", "color": "#43a047"},
          "encoding": {"x": {"datum": 1687107960000, "type": "temporal"}, "y": {"datum": 0.229}}},
        {"data": {"values": [{}]}, "mark": {"type": "rect", "color": "#43a047", "cornerRadius": 2},
          "encoding": {"x": {"datum": 1709131320000, "type": "temporal"}, "x2": {"datum": 1709861760000}, "y": {"datum": 0.2825}, "y2": {"datum": 0.185}}},
        {"data": {"values": [{}]}, "mark": {"type": "text", "text": "0.24", "color": "#ffffff"},
          "encoding": {"x": {"datum": 1709287200000, "type": "temporal"}, "y": {"datum": 0.2337}}}
      ]
    },
    {
      "width": 2522,
      "height": 205,
      "layer": [
        {"data": {"values": [{"level": 20}, {"level": 40}, {"level": 60}]}, "mark": {"type": "rule", "color": "#2a2e39", "strokeWidth": 1},
          "encoding": {"x": {"datum": 1685851200000, "type": "temporal"}, "x2": {"datum": 1709131320000}, "y": {"field": "level", "type": "quantitative", "scale": {"domain": [15.7, 76.53], "nice": false, "zero": false}}}},
        {"data": {"values": [{}]}, "mark": {"type": "rect", "color": "#7e57c2", "opacity": 0.1},
          "encoding": {"x": {"datum": 1685851200000, "type": "temporal"}, "x2": {"datum": 1709131320000}, "y": {"datum": 70}, "y2": {"datum": 30}}},
        {"data": {"values": [{"level": 30}, {"level": 70}]}, "mark": {"type": "rule", "color": "#787b86", "strokeDash": [7, 7], "strokeWidth": 1.2},
          "encoding": {"x": {"datum": 1685851200000, "type": "temporal"}, "x2": {"datum": 1709131320000}, "y": {"field": "level", "type": "quantitative"}}},
        {"data": {"values": [{"level": 50}]}, "mark": {"type": "rule", "color": "#d1d4dc", "strokeDash": [1.5, 3.5], "strokeWidth": 1.2, "opacity": 0.8},
          "encoding": {"x": {"datum": 1685851200000, "type": "temporal"}, "x2": {"datum": 1709131320000}, "y": {"field": "level", "type": "quantitative"}}},
        {"data": {"name": "candles"}, "mark": {"type": "line", "color": "#7e57c2", "strokeWidth": 1.6, "clip": true},
          "encoding": {
            "x": {"field": "date", "type": "temporal", "scale": {"type": "utc", "domain": [1685851200000, 1710417600000], "padding": 0},
              "axis": {"values": [1688169600000, 1690848000000, 1693526400000, 1696118400000, 1698796800000, 1701388800000, 1704067200000, 1706745600000, 1708300800000], "grid": true, "labels": false, "title": null}},
            "y": {"field": "rsi", "type": "quantitative", "axis": {"orient": "right", "offset": -132, "values": [20, 40, 60], "format": ".2f", "grid": false, "labelAlign": "left", "labelPadding": 16, "labelBaseline": "middle", "title": null}}}},
        {"data": {"values": [{}]}, "mark": {"type": "text", "text": "RSI (14, close, SMA, 14, 2)", "color": "#b2b5be"},
          "encoding": {"x": {"datum": 1686012120000, "type": "temporal"}, "y": {"datum": 67.33}}},
        {"data": {"values": [{}]}, "mark": {"type": "text", "text": "64.34", "color": "#7e57c2"},
          "encoding": {"x": {"datum": 1688861160000, "type": "temporal"}, "y": {"datum": 67.33}}},
        {"data": {"values": [{}]}, "mark": {"type": "rect", "color": "#7e57c2", "cornerRadius": 2},
          "encoding": {"x": {"datum": 1709131320000, "type": "temporal"}, "x2": {"datum": 1709988480000}, "y": {"datum": 68.96}, "y2": {"datum": 59.91}}},
        {"data": {"values": [{}]}, "mark": {"type": "text", "text": "64.34", "color": "#ffffff"},
          "encoding": {"x": {"datum": 1709287200000, "type": "temporal"}, "y": {"datum": 64.42}}}
      ]
    },
    {
      "width": 2522,
      "height": 52,
      "data": {"name": "candles"},
      "title": {"text": "TradingView", "orient": "bottom", "anchor": "start", "frame": "group", "font": "Roboto", "fontSize": 25, "fontWeight": 500, "color": "#d1d4dc", "offset": 20, "dx": 45},
      "mark": {"type": "tick", "opacity": 0},
      "encoding": {
        "x": {"field": "date", "type": "temporal", "scale": {"type": "utc", "domain": [1685851200000, 1710417600000], "padding": 0},
          "axis": {"values": [1688169600000, 1690848000000, 1693526400000, 1696118400000, 1698796800000, 1701388800000, 1704067200000, 1706745600000, 1708300800000],
            "grid": false, "orient": "bottom", "offset": -52, "labelPadding": 17, "labelBaseline": "top", "title": null,
            "labelExpr": "utcdate(datum.value) == 19 ? '19' : (utcmonth(datum.value) == 0 ? utcFormat(datum.value, '%Y') : utcFormat(datum.value, '%b'))",
            "labelFontWeight": {"condition": {"test": "utcmonth(datum.value) == 0", "value": "bold"}, "value": "normal"},
            "labelColor": {"condition": {"test": "utcmonth(datum.value) == 0", "value": "#d1d4dc"}, "value": "#b2b5be"}}
        }
      }
    }
  ],
  "config": {
    "view": {"fill": "#131722", "stroke": "#2a2e39", "strokeWidth": 1.5},
    "axis": {"domain": false, "ticks": false, "gridColor": "#2a2e39", "gridWidth": 1, "labelFont": "Inter", "labelFontSize": 22, "labelColor": "#b2b5be"},
    "text": {"font": "Inter", "fontSize": 22, "baseline": "middle", "align": "left"}
  }
}
